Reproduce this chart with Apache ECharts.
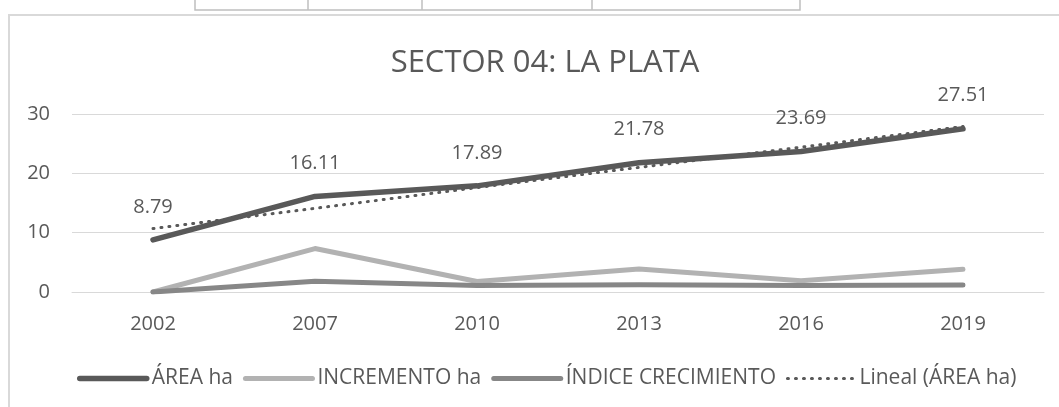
<!DOCTYPE html>
<html>
<head>
<meta charset="utf-8">
<title>SECTOR 04: LA PLATA</title>
<script src="https://cdn.jsdelivr.net/npm/echarts@6/dist/echarts.min.js"></script>
<style>
  html, body { margin: 0; padding: 0; background: #ffffff; }
  #chart { width: 1059px; height: 407px; }
</style>
</head>
<body>
<div id="chart"></div>
<script>
// datos
const years = ['2002', '2007', '2010', '2013', '2016', '2019']
const areaHa = [8.79, 16.11, 17.89, 21.78, 23.69, 27.51]
const incrementoHa = [0, 7.32, 1.78, 3.89, 1.91, 3.82]
const indiceCrecimiento = [0, 1.83, 1.11, 1.22, 1.09, 1.16]
const linealArea = [10.7, 14.1, 17.6, 21.0, 24.4, 27.9]

const textColor = '#595959'
const fontFamily = '"Open Sans", sans-serif'

const chart = echarts.init(document.getElementById('chart'), null, { renderer: 'canvas' })

const option = {
  backgroundColor: '#ffffff',
  animation: false,
  title: {
    text: 'SECTOR 04: LA PLATA',
    left: 540,
    textAlign: 'center',
    top: 43,
    textStyle: { color: textColor, fontFamily, fontSize: 31, fontWeight: 'normal' }
  },
  // restos de la tabla de arriba y marco del gráfico
  graphic: [
    {
      type: 'rect', z: -1,
      shape: { x: 9, y: 15, width: 1100, height: 500 },
      style: { fill: 'none', stroke: '#d9d9d9', lineWidth: 2 }
    },
    {
      type: 'rect',
      shape: { x: 195, y: -5, width: 605, height: 15 },
      style: { fill: 'none', stroke: '#bfbfbf', lineWidth: 1.5 }
    },
    { type: 'line', shape: { x1: 308, y1: 0, x2: 308, y2: 10 }, style: { stroke: '#bfbfbf', lineWidth: 1.5 } },
    { type: 'line', shape: { x1: 422, y1: 0, x2: 422, y2: 10 }, style: { stroke: '#bfbfbf', lineWidth: 1.5 } },
    { type: 'line', shape: { x1: 592, y1: 0, x2: 592, y2: 10 }, style: { stroke: '#bfbfbf', lineWidth: 1.5 } }
  ],
  legend: {
    bottom: 13,
    left: 72,
    itemWidth: 67,
    itemHeight: 12,
    itemGap: 10,
    itemStyle: { opacity: 0 },
    lineStyle: { width: 5, cap: 'round' },
    textStyle: { color: textColor, fontFamily, fontSize: 21 },
    data: [
      { name: 'ÁREA ha', lineStyle: { width: 5.5, cap: 'round' } },
      { name: 'INCREMENTO ha', lineStyle: { width: 5, cap: 'round' } },
      { name: 'ÍNDICE CRECIMIENTO', lineStyle: { width: 5, cap: 'round' } },
      { name: 'Lineal (ÁREA ha)', lineStyle: { width: 3, cap: 'round', type: [1, 7] } }
    ]
  },
  grid: { left: 72, right: 15, top: 114, bottom: 115, containLabel: false },
  xAxis: {
    type: 'category',
    data: years,
    boundaryGap: true,
    axisLine: { lineStyle: { color: '#d9d9d9', width: 1 } },
    axisTick: { show: false },
    axisLabel: { color: textColor, fontFamily, fontSize: 20, margin: 22 }
  },
  yAxis: {
    type: 'value',
    min: 0,
    max: 30,
    interval: 10,
    axisLine: { show: false },
    axisTick: { show: false },
    axisLabel: { color: textColor, fontFamily, fontSize: 20, margin: 22 },
    splitLine: { lineStyle: { color: '#d9d9d9', width: 1 } }
  },
  series: [
    {
      name: 'ÁREA ha',
      type: 'line',
      data: areaHa,
      symbol: 'circle',
      symbolSize: 2,
      itemStyle: { color: '#595959', opacity: 0 },
      color: '#595959',
      lineStyle: { width: 5.5, color: '#595959', cap: 'round', join: 'round' },
      label: {
        show: true,
        position: 'top',
        distance: 22,
        color: textColor,
        fontFamily,
        fontSize: 20,
        opacity: 1,
        formatter: p => p.value.toFixed(2)
      },
      labelLayout: { hideOverlap: false },
      z: 3
    },
    {
      name: 'INCREMENTO ha',
      type: 'line',
      data: incrementoHa,
      symbol: 'none',
      color: '#b2b2b2',
      lineStyle: { width: 5, color: '#b2b2b2', cap: 'round', join: 'round' },
      z: 2
    },
    {
      name: 'ÍNDICE CRECIMIENTO',
      type: 'line',
      data: indiceCrecimiento,
      symbol: 'none',
      color: '#878787',
      lineStyle: { width: 5, color: '#878787', cap: 'round', join: 'round' },
      z: 2
    },
    {
      name: 'Lineal (ÁREA ha)',
      type: 'line',
      data: linealArea,
      symbol: 'none',
      color: '#595959',
      lineStyle: { width: 3, color: '#595959', type: [1, 7], cap: 'round' },
      z: 4
    }
  ]
}

chart.setOption(option)
</script>
</body>
</html>
